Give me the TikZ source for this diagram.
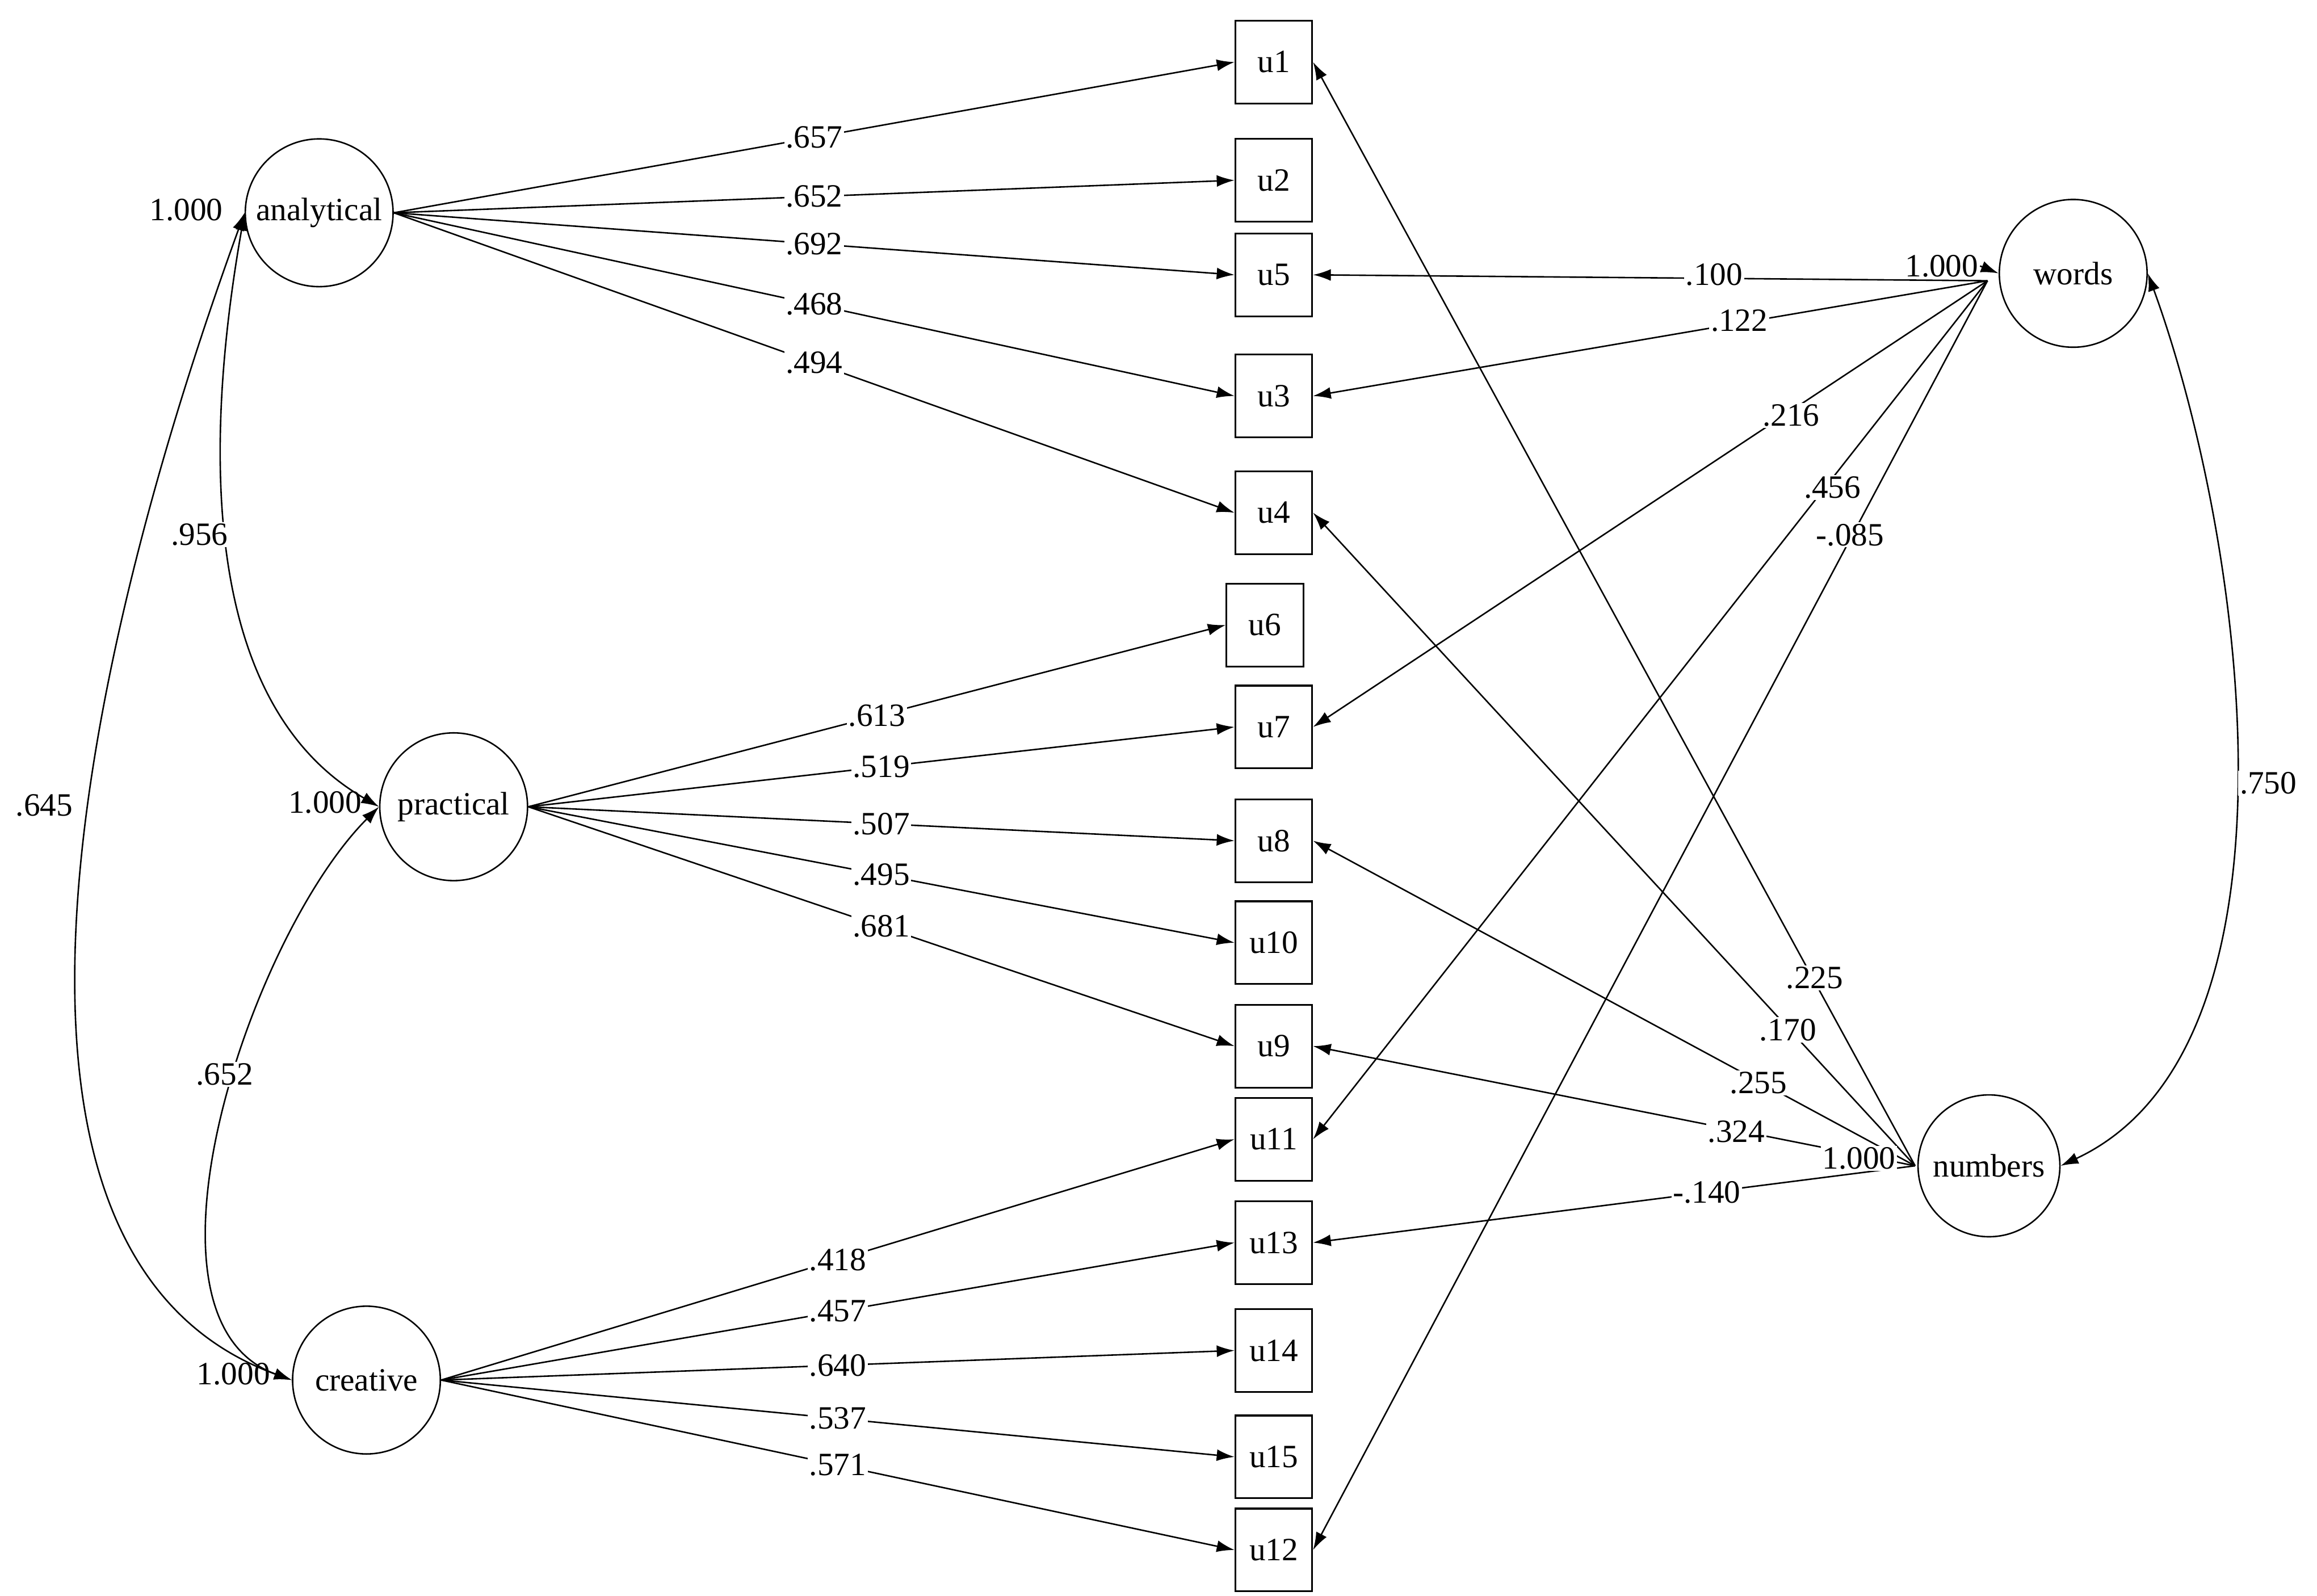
\documentclass[tikz,border=0pt]{standalone}
\usepackage{fontspec}
\setmainfont{Liberation Serif}
\usetikzlibrary{arrows.meta}
\begin{document}
\begin{tikzpicture}[x=1pt,y=-1pt,
 lat/.style={circle,draw,line width=1pt,minimum size=100pt,inner sep=0pt,font=\fontsize{22}{26}\selectfont},
 obs/.style={rectangle,draw,line width=1.2pt,minimum width=52pt,minimum height=56pt,inner sep=0pt,font=\fontsize{22}{26}\selectfont},
 ar/.style={-{Latex[length=12pt,width=8pt]},line width=1pt},
 dar/.style={{Latex[length=12pt,width=8pt]}-{Latex[length=12pt,width=8pt]},line width=1pt},
 lb/.style={fill=white,inner sep=1pt,font=\fontsize{22}{26}\selectfont},
 tx/.style={inner sep=1pt,font=\fontsize{22}{26}\selectfont}]
\useasboundingbox (0,0) rectangle (1568,1080);
\node[lat] (an) at (216,144) {analytical};
\node[lat] (pr) at (307,546) {practical};
\node[lat] (cr) at (248,934) {creative};
\node[lat] (wo) at (1403,185) {words};
\node[lat,minimum size=96pt] (nu) at (1346,789) {numbers};
\foreach \n/\y in {u1/42,u2/122,u5/186,u3/268,u4/347,u7/492,u8/569,u10/638,u9/708,u11/771,u13/841,u14/914,u15/986,u12/1049}
  \node[obs] (\n) at (862,\y) {\n};
\node[obs] (u6) at (856,423) {u6};
% loadings
\foreach \t/\v in {u1/.657,u2/.652,u5/.692,u3/.468,u4/.494}
  \draw[ar] (an.east) -- node[lb,pos=0.5]{\v} (\t.west);
\foreach \t/\v in {u6/.613,u7/.519,u8/.507,u10/.495,u9/.681}
  \draw[ar] (pr.east) -- node[lb,pos=0.5]{\v} (\t.west);
\foreach \t/\v in {u11/.418,u13/.457,u14/.640,u15/.537,u12/.571}
  \draw[ar] (cr.east) -- node[lb,pos=0.5]{\v} (\t.west);
% words covariances
\coordinate (w1) at (1345,190);
\draw[ar] (w1) -- (u5.east);
\draw[ar] (w1) -- (u3.east);
\draw[ar] (w1) -- (u7.east);
\draw[ar] (w1) -- (u11.east);
\draw[ar] (w1) -- (u12.east);
\node[lb] at (1160,186) {.100};
\node[lb] at (1177,217) {.122};
\node[lb] at (1212,281) {.216};
\node[lb] at (1240,330) {.456};
\node[lb] at (1252,362) {-.085};
\node[tx,fill=white] (wv) at (1314,180) {1.000};
\draw[ar] (wv.east) -- (wo.west);
% numbers covariances
\coordinate (n1) at (1296,789);
\draw[ar] (n1) -- (u1.east);
\draw[ar] (n1) -- (u4.east);
\draw[ar] (n1) -- (u8.east);
\draw[ar] (n1) -- (u9.east);
\draw[ar] (n1) -- (u13.east);
\node[lb] at (1228,662) {.225};
\node[lb] at (1210,697) {.170};
\node[lb] at (1190,733) {.255};
\node[lb] at (1175,766) {.324};
\node[lb] at (1155,807) {-.140};
\node[tx,fill=white] at (1258,784) {1.000};
% latent covariances
\draw[dar] (an.west) to[out=-100,in=150,looseness=0.9] (pr.west);
\node[lb] at (135,362) {.956};
\draw[dar] (an.west) to[out=-110,in=160,looseness=0.85] (cr.west);
\node[lb] at (30,545) {.645};
\draw[dar] (pr.west) to[out=-135,in=160,looseness=0.8] (cr.west);
\node[lb] at (152,727) {.652};
\draw[dar] (wo.east) to[out=-70,in=25,looseness=0.8] (nu.east);
\node[lb] at (1535,530) {.750};
% variances
\node[tx] at (126,142) {1.000};
\node[tx] at (220,543) {1.000};
\node[tx] at (158,930) {1.000};
\end{tikzpicture}
\end{document}
